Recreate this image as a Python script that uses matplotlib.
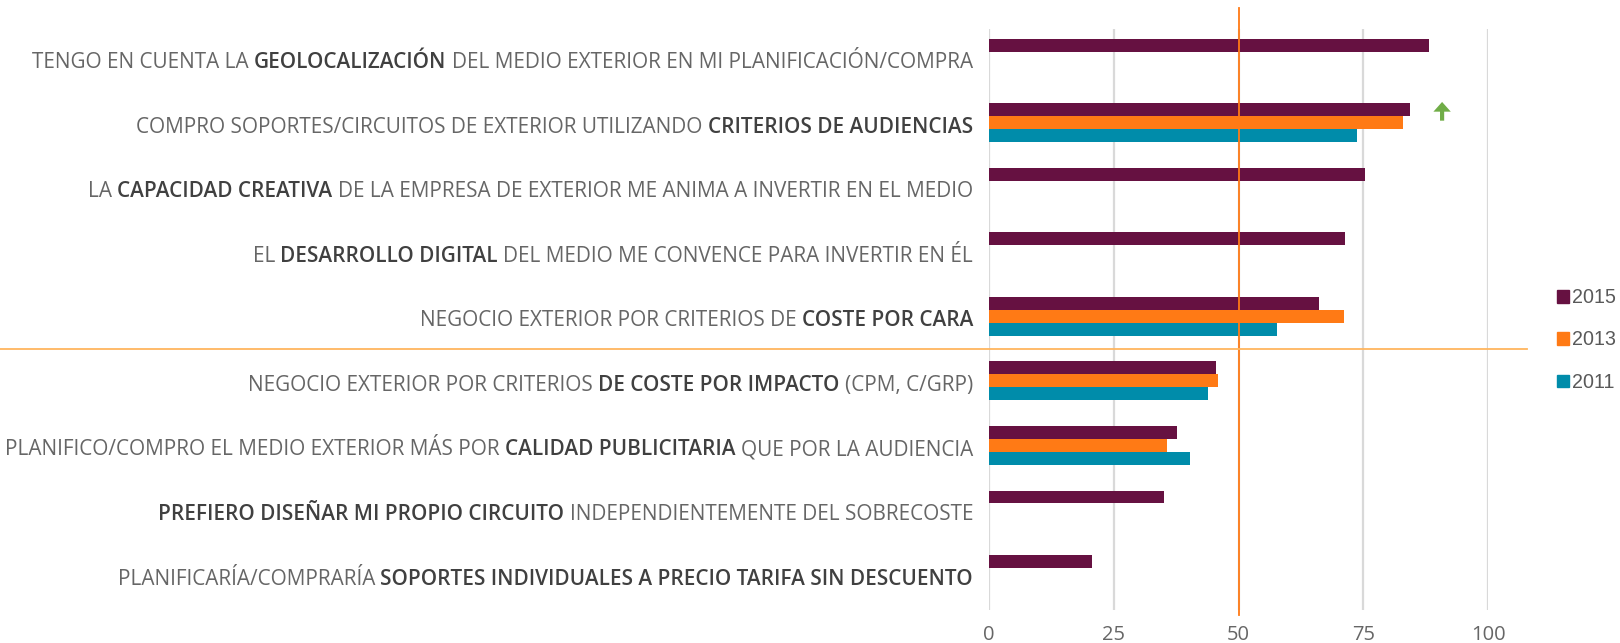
import matplotlib.pyplot as plt
import numpy as np
from matplotlib import font_manager
from matplotlib.patches import Patch
from matplotlib.transforms import blended_transform_factory

# etiquetas: lista de (texto, negrita)
etiquetas = [
    [("TENGO EN CUENTA LA", False), ("GEOLOCALIZACIÓN", True), ("DEL MEDIO EXTERIOR EN MI PLANIFICACIÓN/COMPRA", False)],
    [("COMPRO SOPORTES/CIRCUITOS DE EXTERIOR UTILIZANDO", False), ("CRITERIOS DE AUDIENCIAS", True)],
    [("LA", False), ("CAPACIDAD CREATIVA", True), ("DE LA EMPRESA DE EXTERIOR ME ANIMA A INVERTIR EN EL MEDIO", False)],
    [("EL", False), ("DESARROLLO DIGITAL", True), ("DEL MEDIO ME CONVENCE PARA INVERTIR EN ÉL", False)],
    [("NEGOCIO EXTERIOR POR CRITERIOS DE", False), ("COSTE POR CARA", True)],
    [("NEGOCIO EXTERIOR POR CRITERIOS", False), ("DE COSTE POR IMPACTO", True), ("(CPM, C/GRP)", False)],
    [("PLANIFICO/COMPRO EL MEDIO EXTERIOR MÁS POR", False), ("CALIDAD PUBLICITARIA", True), ("QUE POR LA AUDIENCIA", False)],
    [("PREFIERO DISEÑAR MI PROPIO CIRCUITO", True), ("INDEPENDIENTEMENTE DEL SOBRECOSTE", False)],
    [("PLANIFICARÍA/COMPRARÍA", False), ("SOPORTES INDIVIDUALES A PRECIO TARIFA SIN DESCUENTO", True)],
]

años = ["2015", "2013", "2011"]
v2015 = [88.2, 84.4, 75.3, 71.3, 66.2, 45.4, 37.6, 35.0, 20.7]
v2013 = [np.nan, 83.0, np.nan, np.nan, 71.1, 45.8, 35.6, np.nan, np.nan]
v2011 = [np.nan, 73.7, np.nan, np.nan, 57.8, 43.9, 40.3, np.nan, np.nan]
colores = ["#661141", "#FF7A15", "#008CAA"]

fig = plt.figure(figsize=(16.2, 6.43), dpi=100)
ax = fig.add_axes([989 / 1620, 1 - 610 / 643, 499 / 1620, 581 / 643])

y = np.arange(len(etiquetas))
alto = 0.2
for k, vals in enumerate([v2015, v2013, v2011]):
    ax.barh(y + (k - 1) * alto, vals, height=alto, color=colores[k], zorder=3)

ax.set_xlim(0, 100)
ax.set_ylim(8.55, -0.45)
ax.set_xticks([0, 25, 50, 75, 100])
ax.set_yticks([])
ax.grid(axis="x", color="#D9D9D9", linewidth=1.6, zorder=0)
ax.tick_params(axis="x", length=0, pad=11, labelsize=14.5, labelcolor="#666666")
for t in ax.get_xticklabels():
    t.set_fontfamily(["Open Sans", "DejaVu Sans"])
for s in ax.spines.values():
    s.set_visible(False)

# linea vertical de 50 y linea horizontal de separacion
ax.plot([50, 50], [-0.77, 8.63], color="#FF7A15", linewidth=1.3, clip_on=False, zorder=4)
tr = blended_transform_factory(fig.transFigure, ax.transData)
ax.plot([0, 1527 / 1620], [4.5, 4.5], color="#FFB55E", linewidth=1.3, transform=tr, clip_on=False, zorder=4)

# flecha verde
ax.annotate("", xy=(90.8, 0.68), xytext=(90.8, 0.97),
            arrowprops=dict(width=3.0, headwidth=12.5, headlength=7, shrink=0, color="#70AD47", linewidth=0),
            annotation_clip=False)

# etiquetas con partes en negrita
fig.canvas.draw()
r = fig.canvas.get_renderer()
fuente = ["Open Sans", "DejaVu Sans"]


def ancho(texto, tam, negrita, fam=fuente):
    t = fig.text(0, 0, texto, fontsize=tam, family=fam, fontweight="semibold" if negrita else "normal")
    w = t.get_window_extent(r).width
    t.remove()
    return w


def ancho_etiqueta(partes, tam):
    esp = ancho("x x", tam, False) - ancho("xx", tam, False)
    return sum(ancho(tx, tam, n) for tx, n in partes) + esp * (len(partes) - 1)


# ajustar el tamaño para que la etiqueta mas larga ocupe lo mismo que en el original
tam0 = 11.0
mayor = max(ancho_etiqueta(p, tam0) for p in etiquetas)
tam = tam0 * 963 / mayor
esp = ancho("x x", tam, False) - ancho("xx", tam, False)

tr_lab = blended_transform_factory(fig.transFigure, ax.transData)
for i, partes in enumerate(etiquetas):
    xpix = 973
    for texto, negrita in reversed(partes):
        t = fig.text(xpix / 1620, i + 0.07, texto, ha="right", va="center", fontsize=tam, family=fuente,
                     fontweight="semibold" if negrita else "normal",
                     color="#404040" if negrita else "#666666", transform=tr_lab)
        bb = t.get_window_extent(r)
        xpix = bb.x0 - esp

# leyenda: la fuente instalada mas estrecha, con "2015" cabiendo hasta el borde
nombres = {f.name for f in font_manager.fontManager.ttflist}
candidatas = ["Liberation Sans Narrow", "Roboto", "Liberation Sans", "Lato", "Noto Sans", "Inter"]
candidatas = [c for c in candidatas if c in nombres] or ["DejaVu Sans"]
fam_ley = min(candidatas, key=lambda c: ancho("2015", 16, False, [c]))
tam_ley = min(16, 16 * 44 / ancho("2015", 16, False, [fam_ley]))

handles = [Patch(color=c) for c in colores]
alto_fila = tam_ley * 1.389
fig.legend(handles, años, loc="center left", bbox_to_anchor=(1557 / 1620, 1 - 340 / 643),
           frameon=False, handlelength=12 / alto_fila, handleheight=12 / alto_fila, handletextpad=3 / alto_fila,
           labelspacing=(43 - alto_fila) / alto_fila, borderpad=0, borderaxespad=0,
           labelcolor="#595959", prop={"family": fam_ley, "size": tam_ley})

fig.savefig("out.png", dpi=100)
